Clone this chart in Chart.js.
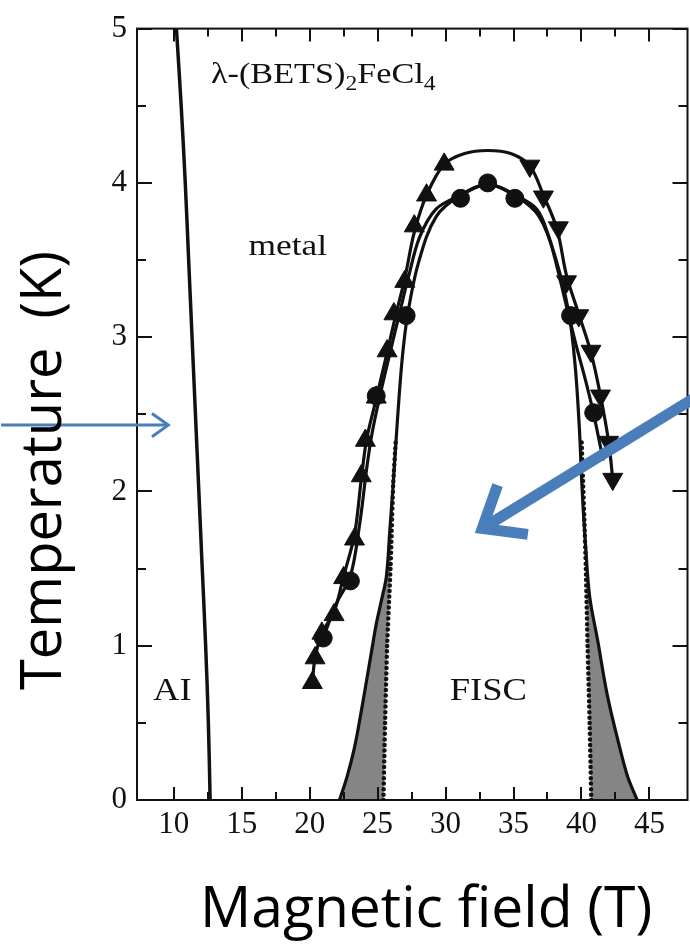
<!DOCTYPE html>
<html>
<head>
<meta charset="utf-8">
<script src="https://cdn.jsdelivr.net/npm/chart.js@4.4.1/dist/chart.umd.min.js"></script>
<style>
  html, body { margin: 0; padding: 0; background: #fff; overflow: hidden; }
  canvas { display: block; }
</style>
</head>
<body>
<canvas id="phase" width="700" height="945"></canvas>
<script>
// tick labels
const xTickLabels = [10, 15, 20, 25, 30, 35, 40, 45];
const xMinorTicks = [12.5, 17.5, 22.5, 27.5, 32.5, 37.5, 42.5];
const yTickLabels = [0, 1, 2, 3, 4, 5];
const yMinorTicks = [0.5, 1.5, 2.5, 3.5, 4.5];

// [field (T), temperature (K)]
const aiBoundary = [[10.2, 5.0], [10.55, 4.5], [10.85, 4.0], [11.1, 3.5], [11.35, 3.0], [11.6, 2.5], [11.85, 2.0], [12.1, 1.5], [12.35, 1.0], [12.55, 0.5], [12.68, 0.0]];
const upTriangles = [[20.2, 0.76], [20.4, 0.92], [20.9, 1.08], [21.8, 1.2], [22.5, 1.44], [23.3, 1.69], [23.8, 2.1], [24.1, 2.33], [24.9, 2.61], [25.7, 2.91], [26.2, 3.15], [27.0, 3.36], [27.7, 3.72], [28.6, 3.92], [29.9, 4.12]];
const downTriangles = [[36.2, 4.11], [37.2, 3.91], [38.3, 3.71], [38.9, 3.36], [39.8, 3.14], [40.7, 2.91], [41.4, 2.62], [42.0, 2.32], [42.3, 2.08]];
const circles = [[21.0, 1.05], [23.0, 1.42], [24.9, 2.62], [27.1, 3.14], [31.1, 3.9], [33.1, 4.0], [35.1, 3.9], [39.2, 3.14], [40.9, 2.51]];
const outerCurve = [[20.2, 0.76], [20.4, 0.92], [20.9, 1.08], [21.8, 1.22], [22.5, 1.45], [23.3, 1.72], [23.8, 2.08], [24.2, 2.34], [24.9, 2.6], [25.7, 2.9], [26.3, 3.13], [27.0, 3.38], [27.7, 3.68], [28.6, 3.92], [29.9, 4.12], [31.4, 4.19], [33.1, 4.21], [34.8, 4.19], [36.2, 4.11], [37.2, 3.92], [38.2, 3.7], [38.9, 3.4], [39.8, 3.15], [40.7, 2.9], [41.4, 2.62], [42.0, 2.32], [42.3, 2.08]];
const innerCurve = [[21.0, 1.05], [22.0, 1.28], [23.0, 1.45], [23.7, 1.8], [24.2, 2.15], [24.6, 2.38], [25.2, 2.63], [26.0, 2.93], [26.6, 3.15], [27.3, 3.4], [28.1, 3.65], [29.3, 3.83], [31.1, 3.92], [33.1, 3.99], [35.1, 3.92], [36.7, 3.83], [37.6, 3.65], [38.3, 3.42], [38.9, 3.2], [39.6, 2.95], [40.3, 2.72], [40.9, 2.5], [41.6, 2.2]];
const fiscCurve = [[22.2, 0.0], [22.75, 0.15], [23.3, 0.34], [23.75, 0.55], [24.2, 0.78], [24.55, 0.96], [24.9, 1.14], [25.3, 1.3], [25.65, 1.45], [25.9, 1.75], [26.15, 2.05], [26.45, 2.45], [26.8, 2.85], [27.2, 3.14], [28.0, 3.48], [29.3, 3.78], [31.1, 3.92], [33.1, 3.99], [35.1, 3.92], [36.9, 3.78], [38.2, 3.48], [39.1, 3.14], [39.55, 2.8], [39.85, 2.4], [40.0, 2.1], [40.15, 1.85], [40.3, 1.65], [40.6, 1.32], [41.2, 1.03], [41.9, 0.68], [42.7, 0.38], [43.4, 0.15], [44.1, 0.0]];
const dotLeft = [[25.43, 0.0], [25.55, 0.5], [25.7, 1.0], [25.95, 1.5], [26.15, 2.05], [26.35, 2.35]];
const dotRight = [[40.72, 0.0], [40.6, 0.5], [40.45, 1.0], [40.32, 1.5], [40.22, 1.8], [40.1, 2.1], [40.0, 2.35]];

const pts = arr => arr.map(([x, y]) => ({x, y}));

// grey wedges between the solid boundary and the dotted lines
const leftTop = dotLeft[dotLeft.length - 1][1];
const rightTop = dotRight[dotRight.length - 1][1];
const shadeLeft = fiscCurve.filter(p => p[0] < 33 && p[1] <= leftTop).concat(dotLeft.slice().reverse());
const shadeRight = dotRight.concat(fiscCurve.filter(p => p[0] > 33 && p[1] <= rightTop));

const INK = '#111';
const BLUE = '#4a7ebb';

const lineDs = (data, width, extra) => Object.assign({
  data: pts(data), showLine: true, borderColor: INK, borderWidth: width,
  pointRadius: 0, tension: 0.35, fill: false, order: 2
}, extra || {});

// frame and inward ticks on all four sides
const frameTicks = {
  id: 'frameTicks',
  afterDraw(chart) {
    const {ctx, chartArea: a, scales: {x, y}} = chart;
    ctx.save();
    ctx.strokeStyle = INK;
    ctx.lineWidth = 2;
    ctx.setLineDash([]);
    ctx.strokeRect(a.left, a.top, a.right - a.left, a.bottom - a.top);
    const seg = (x0, y0, x1, y1) => {
      ctx.beginPath(); ctx.moveTo(x0, y0); ctx.lineTo(x1, y1); ctx.stroke();
    };
    const xt = (v, len) => {
      const p = Math.round(x.getPixelForValue(v));
      seg(p, a.bottom, p, a.bottom - len);
      seg(p, a.top, p, a.top + len);
    };
    const yt = (v, len) => {
      const p = Math.round(y.getPixelForValue(v));
      seg(a.left, p, a.left + len, p);
      seg(a.right, p, a.right - len, p);
    };
    xTickLabels.forEach(v => xt(v, 13));
    xMinorTicks.forEach(v => xt(v, 8));
    yTickLabels.forEach(v => yt(v, 15));
    yMinorTicks.forEach(v => yt(v, 9));
    ctx.restore();
  }
};

function serifText(ctx, parts, x, y) {
  // figure text is slightly stretched horizontally
  ctx.save();
  ctx.translate(x, y);
  ctx.scale(1.18, 1);
  let cx = 0;
  parts.forEach(([s, size, dy]) => {
    ctx.font = size + 'px "Liberation Serif", "Times New Roman", serif';
    ctx.fillText(s, cx, dy);
    cx += ctx.measureText(s).width;
  });
  ctx.restore();
}

function arrow(ctx, x0, y0, x1, y1, w, head, spread) {
  const ang = Math.atan2(y0 - y1, x0 - x1);
  ctx.lineWidth = w;
  ctx.beginPath();
  ctx.moveTo(x0, y0); ctx.lineTo(x1, y1);
  ctx.stroke();
  ctx.beginPath();
  ctx.moveTo(x1 + head * Math.cos(ang - spread), y1 + head * Math.sin(ang - spread));
  ctx.lineTo(x1, y1);
  ctx.lineTo(x1 + head * Math.cos(ang + spread), y1 + head * Math.sin(ang + spread));
  ctx.stroke();
}

const overlay = {
  id: 'overlay',
  afterDraw(chart) {
    const {ctx, scales: {x, y}} = chart;
    const px = v => x.getPixelForValue(v), py = v => y.getPixelForValue(v);
    ctx.save();
    ctx.fillStyle = INK;
    ctx.textBaseline = 'alphabetic';
    ctx.textAlign = 'left';
    serifText(ctx, [['λ-(BETS)', 29, 0], ['2', 20, 7], ['FeCl', 29, 0], ['4', 20, 7]], px(12.74), py(4.645));
    serifText(ctx, [['metal', 30, 0]], px(15.5), py(3.53));
    serifText(ctx, [['AI', 31, 0]], px(8.48), py(0.65));
    serifText(ctx, [['FISC', 31, 0]], px(30.3), py(0.65));

    // slide arrows
    ctx.strokeStyle = BLUE;
    ctx.lineCap = 'butt';
    ctx.lineJoin = 'miter';
    arrow(ctx, px(-2.7), py(2.43), px(9.6), py(2.43), 3, 20, 0.62);
    arrow(ctx, px(48.2), py(2.6), px(32.7), py(1.76), 11, 46, 0.68);

    // axis titles
    ctx.fillStyle = '#000';
    ctx.font = '57px "Open Sans", sans-serif';
    ctx.fillText('Magnetic field (T)', 200, 927);
    ctx.font = '56px "Open Sans", sans-serif';
    ctx.translate(61, 690);
    ctx.rotate(-Math.PI / 2);
    ctx.fillText('Temperature  (K)', 0, 0);
    ctx.restore();
  }
};

new Chart(document.getElementById('phase'), {
  type: 'scatter',
  data: {
    datasets: [
      {data: pts(upTriangles), pointStyle: 'triangle', pointRadius: 11.5, backgroundColor: INK, borderColor: INK, borderWidth: 1, order: 0},
      {data: pts(downTriangles), pointStyle: 'triangle', rotation: 180, pointRadius: 11.5, backgroundColor: INK, borderColor: INK, borderWidth: 1, order: 0},
      {data: pts(circles), pointStyle: 'circle', pointRadius: 9, backgroundColor: INK, borderColor: INK, borderWidth: 1, order: 0},
      lineDs(aiBoundary, 3.5, {tension: 0.4}),
      lineDs(outerCurve, 3.2),
      lineDs(innerCurve, 3.2),
      lineDs(fiscCurve, 3.2),
      lineDs(dotLeft, 4.5, {borderDash: [0, 5.5], borderCapStyle: 'round', tension: 0.2}),
      lineDs(dotRight, 4.5, {borderDash: [0, 5.5], borderCapStyle: 'round', tension: 0.2}),
      lineDs(shadeLeft, 0, {fill: 'shape', backgroundColor: '#858585', tension: 0, order: 5}),
      lineDs(shadeRight, 0, {fill: 'shape', backgroundColor: '#858585', tension: 0, order: 5})
    ]
  },
  options: {
    responsive: false,
    animation: false,
    layout: {padding: {top: 27, right: 3, left: 0, bottom: 0}},
    plugins: {legend: {display: false}, tooltip: {enabled: false}},
    scales: {
      x: {
        type: 'linear', min: 7.3, max: 47.8,
        grid: {display: false, drawTicks: false},
        border: {display: false},
        afterBuildTicks: s => { s.ticks = xTickLabels.map(v => ({value: v})); },
        afterFit: s => { s.height = 145; },
        ticks: {font: {family: 'Liberation Serif', size: 31}, color: INK, padding: 6, maxRotation: 0, autoSkip: false}
      },
      y: {
        type: 'linear', min: 0, max: 5,
        grid: {display: false, drawTicks: false},
        border: {display: false},
        afterBuildTicks: s => { s.ticks = yTickLabels.map(v => ({value: v})); },
        afterFit: s => { s.width = 137; },
        ticks: {font: {family: 'Liberation Serif', size: 31}, color: INK, padding: 10, autoSkip: false}
      }
    }
  },
  plugins: [frameTicks, overlay]
});
</script>
</body>
</html>
